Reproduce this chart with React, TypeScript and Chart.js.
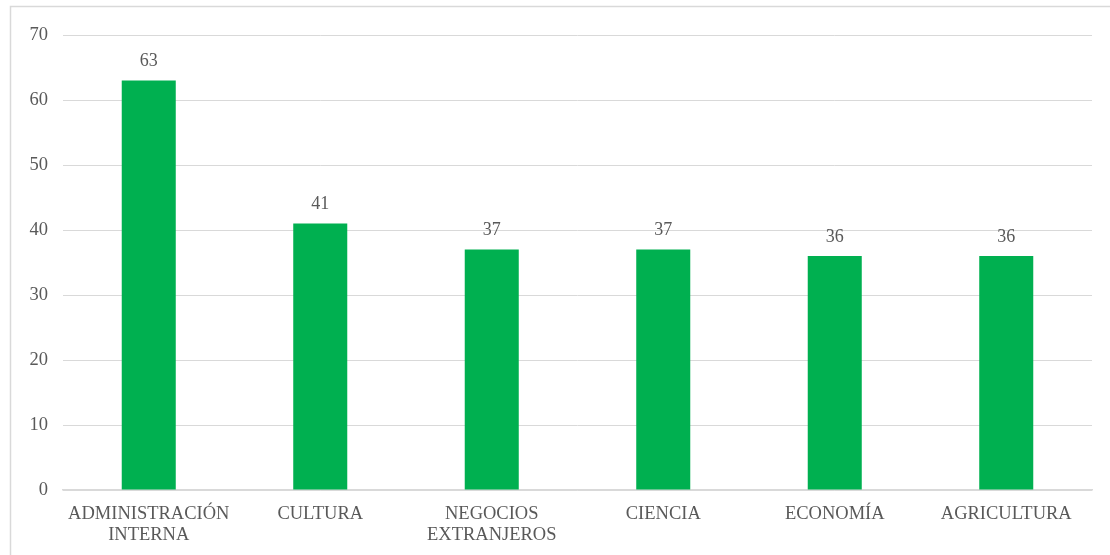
import React, { useEffect, useRef } from "react";
import { Chart, registerables } from "chart.js";

Chart.register(...registerables);

const categories: string[][] = [
  ["ADMINISTRACIÓN", "INTERNA"],
  ["CULTURA"],
  ["NEGOCIOS", "EXTRANJEROS"],
  ["CIENCIA"],
  ["ECONOMÍA"],
  ["AGRICULTURA"],
];
const values: number[] = [63, 41, 37, 37, 36, 36];
const yMin = 0;
const yMax = 70;
const yStep = 10;

const FONT = "'Liberation Serif', 'Times New Roman', serif";
const TEXT = "#595959";
const GRID = "#d9d9d9";
const GREEN = "#00B050";

const extrasPlugin = {
  id: "extras",
  beforeDraw(chart: any) {
    const ctx = chart.ctx;
    ctx.save();
    ctx.fillStyle = "#ffffff";
    ctx.fillRect(0, 0, chart.width, chart.height);
    ctx.strokeStyle = GRID;
    ctx.lineWidth = 1.5;
    ctx.strokeRect(10.5, 6.5, chart.width + 50, chart.height + 50);
    ctx.restore();
  },
  afterDatasetsDraw(chart: any) {
    const ctx = chart.ctx;
    const meta = chart.getDatasetMeta(0);
    ctx.save();
    ctx.fillStyle = TEXT;
    ctx.font = `18px ${FONT}`;
    ctx.textAlign = "center";
    ctx.textBaseline = "middle";
    meta.data.forEach((bar: any, i: number) => {
      ctx.fillText(String(values[i]), bar.x, bar.y - 19);
    });
    ctx.restore();
  },
};

export default function App() {
  const ref = useRef<HTMLCanvasElement | null>(null);
  useEffect(() => {
    document.body.style.margin = "0";
    const canvas = ref.current;
    if (!canvas) return;
    const chart = new Chart(canvas, {
      type: "bar",
      data: {
        labels: categories,
        datasets: [
          {
            data: values,
            backgroundColor: GREEN,
            borderWidth: 0,
            barPercentage: 0.315,
            categoryPercentage: 1,
          },
        ],
      },
      options: {
        animation: false,
        responsive: false,
        maintainAspectRatio: false,
        layout: { padding: { top: 35, right: 18, left: 0, bottom: 0 } },
        plugins: {
          legend: { display: false },
          tooltip: { enabled: false },
          title: { display: false },
        },
        scales: {
          x: {
            grid: { display: false, drawTicks: false },
            border: { display: true, color: GRID, width: 1.5 },
            ticks: {
              color: TEXT,
              font: { family: FONT, size: 18.5, lineHeight: 1.12 },
              padding: 14,
              maxRotation: 0,
              autoSkip: false,
            },
            afterFit: (scale: any) => {
              scale.height = 65;
            },
          },
          y: {
            min: yMin,
            max: yMax,
            grid: { color: GRID, lineWidth: 1, drawTicks: false },
            border: { display: false },
            ticks: {
              stepSize: yStep,
              color: TEXT,
              font: { family: FONT, size: 18.5 },
              padding: 15,
            },
            afterFit: (scale: any) => {
              scale.width = 63;
            },
          },
        },
      },
      plugins: [extrasPlugin],
    });
    return () => chart.destroy();
  }, []);
  return (
    <div style={{ width: 1110, height: 555 }}>
      <canvas ref={ref} width={1110} height={555} style={{ display: "block" }} />
    </div>
  );
}
